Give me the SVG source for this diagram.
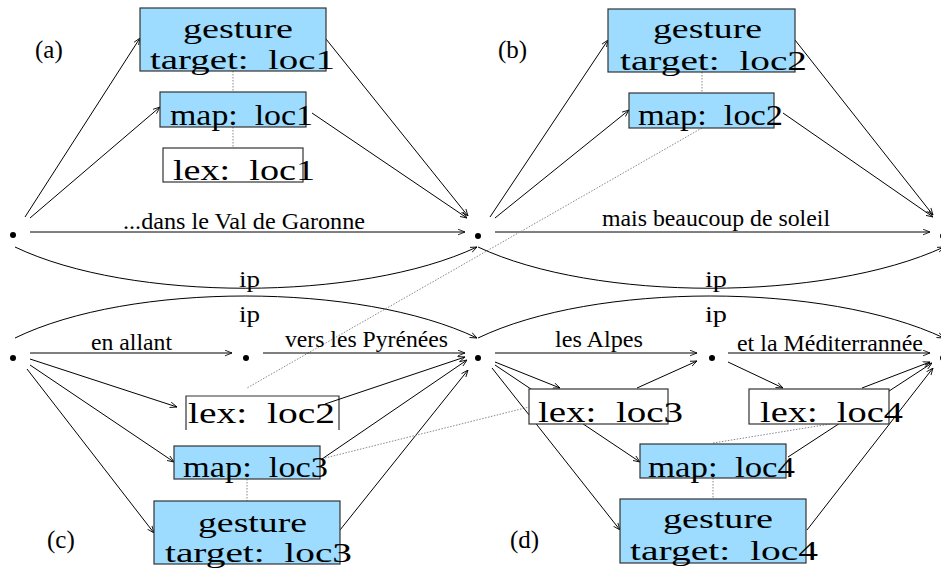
<svg xmlns="http://www.w3.org/2000/svg" width="941" height="568" viewBox="0 0 941 568" font-family="'Liberation Serif', 'Times New Roman', Times, serif">
<style>
.c{fill:none;stroke:#000;stroke-width:1}
.a{marker-end:url(#ah)}
.d{fill:none;stroke:#888;stroke-width:1;stroke-dasharray:1.5,1.5}
.bx{fill:#9DDCFE;stroke:#333;stroke-width:1.2}
.lx{fill:#fff;stroke:#333;stroke-width:1.2}
text{font-family:'Liberation Serif','Times New Roman',Times,serif;fill:#000}
.bt{font-size:29px}
.gt{font-size:27px}
.et{font-size:23px}
.ip{font-size:24px}
.pt{font-size:25px}
.dot{fill:#000}
</style>
<defs>
<marker id="ah" viewBox="0 0 10 10" refX="10" refY="5" markerWidth="7" markerHeight="7" markerUnits="userSpaceOnUse" orient="auto">
<path d="M0,1 L10,5 L0,9" fill="none" stroke="#000" stroke-width="1.2"/>
</marker>
</defs>
<g id="connectors">
<path class="c a" d="M25,217 L140,38"/>
<path class="c a" d="M30,218 L160,107"/>
<path class="c a" d="M326,39 L468,216"/>
<path class="c a" d="M312,113 L467,218"/>
<path class="c a" d="M30,232 L465,232"/>
<path class="d" d="M233,71 V92"/>
<path class="d" d="M233,127 V148"/>
<path class="c a" d="M490,217 L608,40"/>
<path class="c a" d="M495,218 L629,110"/>
<path class="c a" d="M795,40 L933,215"/>
<path class="c a" d="M783,113 L933,217"/>
<path class="c a" d="M495,232 L930,232"/>
<path class="d" d="M702,72 V93"/>
<path class="d" d="M702,128 L247,388"/>
<path class="c a" d="M15,247 C130,302 360,302 477,247"/>
<path class="c a" d="M478,247 C595,302 825,302 944,247"/>
<path class="c a" d="M15,338 C130,282 360,282 477,338"/>
<path class="c a" d="M478,338 C595,282 825,282 944,338"/>
<path class="c a" d="M30,353 L232,353"/>
<path class="c a" d="M263,353 L465,353"/>
<path class="c a" d="M30,359 L177,407"/>
<path class="c a" d="M30,365 L174,462"/>
<path class="c a" d="M27,369 L154,533"/>
<path class="c a" d="M322,459 L467,360"/>
<path class="c a" d="M340,530 L468,370"/>
<path class="d" d="M325,458 L529,407"/>
<path class="d" d="M247,479 V501"/>
<path class="c a" d="M495,353 L697,353"/>
<path class="c a" d="M728,353 L930,353"/>
<path class="c a" d="M495,362 L560,388"/>
<path class="c a" d="M495,365 L640,462"/>
<path class="c a" d="M492,368 L620,530"/>
<path class="c a" d="M637,388 L697,361"/>
<path class="c a" d="M728,362 L783,388"/>
<path class="c a" d="M862,388 L930,362"/>
<path class="c a" d="M788,457 L932,363"/>
<path class="c a" d="M807,530 L933,368"/>
<path class="d" d="M713,443 L830,424"/>
<path class="d" d="M713,478 V499"/>
</g>
<g id="dots">
<circle class="dot" cx="13" cy="235" r="3"/>
<circle class="dot" cx="478" cy="236" r="3"/>
<circle class="dot" cx="943" cy="236" r="3"/>
<circle class="dot" cx="13" cy="358" r="3"/>
<circle class="dot" cx="246" cy="358" r="3"/>
<circle class="dot" cx="478" cy="358" r="3"/>
<circle class="dot" cx="712" cy="358" r="3"/>
<circle class="dot" cx="943" cy="358" r="3"/>
</g>
<g id="edge-labels" class="et">
<text x="123" y="229" textLength="242" lengthAdjust="spacingAndGlyphs">...dans le Val de Garonne</text>
<text x="602" y="226" textLength="228" lengthAdjust="spacingAndGlyphs">mais beaucoup de soleil</text>
<text class="ip" x="239" y="287" textLength="21" lengthAdjust="spacingAndGlyphs">ip</text>
<text class="ip" x="705" y="287" textLength="22" lengthAdjust="spacingAndGlyphs">ip</text>
<text class="ip" x="239" y="322" textLength="21" lengthAdjust="spacingAndGlyphs">ip</text>
<text class="ip" x="705" y="322" textLength="22" lengthAdjust="spacingAndGlyphs">ip</text>
<text x="91" y="350" textLength="81" lengthAdjust="spacingAndGlyphs">en allant</text>
<text x="285" y="347" textLength="163" lengthAdjust="spacingAndGlyphs">vers les Pyrénées</text>
<text x="555" y="347" textLength="88" lengthAdjust="spacingAndGlyphs">les Alpes</text>
<text x="737" y="351" textLength="186" lengthAdjust="spacingAndGlyphs">et la Méditerrannée</text>
</g>
<g id="panel-labels" class="pt">
<text x="35" y="58">(a)</text>
<text x="498" y="58">(b)</text>
<text x="47" y="548">(c)</text>
<text x="510" y="548">(d)</text>
</g>
<g id="gesture-loc1">
<rect class="bx" x="140" y="8" width="186" height="63"/>
<text class="gt" x="183" y="38" textLength="110" lengthAdjust="spacingAndGlyphs">gesture</text>
<text class="gt" x="150" y="69" textLength="185" lengthAdjust="spacingAndGlyphs">target:&#160; loc1</text>
</g>
<g id="map-loc1">
<rect class="bx" x="160" y="92" width="146" height="35"/>
<text class="bt" x="170" y="125" textLength="143" lengthAdjust="spacingAndGlyphs">map:&#160; loc1</text>
</g>
<g id="lex-loc1">
<rect class="lx" x="163" y="148" width="140" height="34"/>
<text class="bt" x="173" y="180" textLength="142" lengthAdjust="spacingAndGlyphs">lex:&#160; loc1</text>
</g>
<g id="gesture-loc2">
<rect class="bx" x="608" y="9" width="187" height="63"/>
<text class="gt" x="653" y="38" textLength="109" lengthAdjust="spacingAndGlyphs">gesture</text>
<text class="gt" x="620" y="70" textLength="187" lengthAdjust="spacingAndGlyphs">target:&#160; loc2</text>
</g>
<g id="map-loc2">
<rect class="bx" x="629" y="93" width="145" height="35"/>
<text class="bt" x="638" y="125" textLength="145" lengthAdjust="spacingAndGlyphs">map:&#160; loc2</text>
</g>
<g id="lex-loc2">
<path class="c" d="M186,430 V396 H339 V430" style="stroke:#333;stroke-width:1.2"/>
<path class="c a" d="M325,404 L465,357"/>
<text class="bt" x="188" y="423" textLength="147" lengthAdjust="spacingAndGlyphs">lex:&#160; loc2</text>
</g>
<g id="map-loc3">
<rect class="bx" x="174" y="446" width="146" height="33"/>
<text class="bt" x="183" y="477" textLength="145" lengthAdjust="spacingAndGlyphs">map:&#160; loc3</text>
</g>
<g id="gesture-loc3">
<rect class="bx" x="154" y="501" width="186" height="63"/>
<text class="gt" x="198" y="532" textLength="109" lengthAdjust="spacingAndGlyphs">gesture</text>
<text class="gt" x="165" y="562" textLength="187" lengthAdjust="spacingAndGlyphs">target:&#160; loc3</text>
</g>
<g id="lex-loc3">
<rect class="lx" x="529" y="389" width="139" height="35"/>
<text class="bt" x="538" y="422" textLength="145" lengthAdjust="spacingAndGlyphs">lex:&#160; loc3</text>
</g>
<g id="lex-loc4">
<rect class="lx" x="749" y="389" width="140" height="35"/>
<text class="bt" x="760" y="422" textLength="143" lengthAdjust="spacingAndGlyphs">lex:&#160; loc4</text>
</g>
<g id="map-loc4">
<rect class="bx" x="640" y="444" width="146" height="34"/>
<text class="bt" x="648" y="477" textLength="147" lengthAdjust="spacingAndGlyphs">map:&#160; loc4</text>
</g>
<g id="gesture-loc4">
<rect class="bx" x="620" y="499" width="186" height="64"/>
<text class="gt" x="663" y="528" textLength="110" lengthAdjust="spacingAndGlyphs">gesture</text>
<text class="gt" x="630" y="560" textLength="188" lengthAdjust="spacingAndGlyphs">target:&#160; loc4</text>
</g>
</svg>
